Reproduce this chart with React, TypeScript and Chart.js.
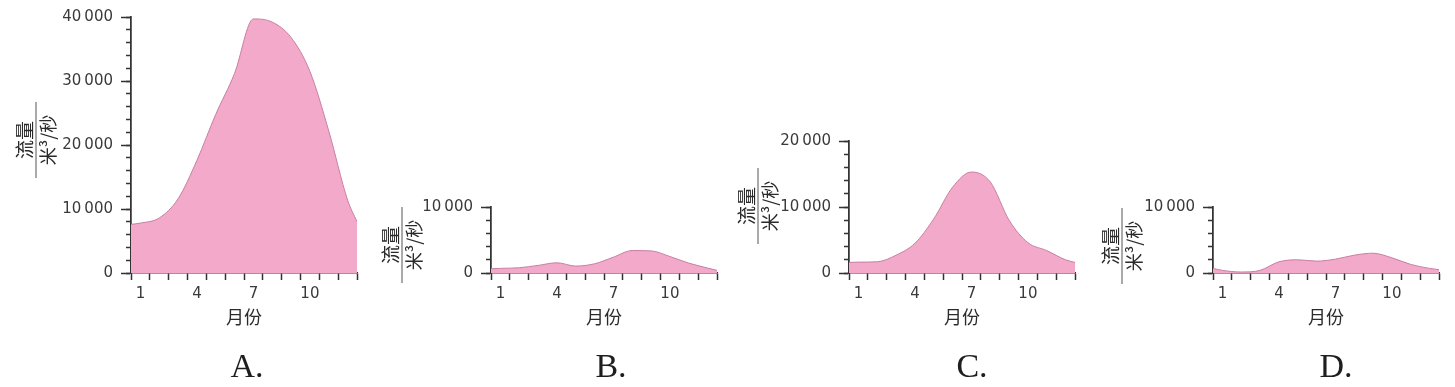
import React, { useEffect, useRef } from "react";
import { Chart, registerables } from "chart.js";

Chart.register(...registerables);

// ---- data ----
const flowX = [0.5, 1, 2, 3, 4, 5, 6, 7, 8, 9, 10, 11, 12, 12.5];
const monthBoundaries = [0.5, 1.5, 2.5, 3.5, 4.5, 5.5, 6.5, 7.5, 8.5, 9.5, 10.5, 11.5, 12.5];
const labeledMonths = [1, 4, 7, 10];

const flowA = [7600, 7800, 8600, 11600, 17600, 24800, 31200, 39700, 39200, 36800, 31500, 22200, 11400, 8000];
const flowB = [650, 700, 800, 1150, 1550, 1050, 1400, 2400, 3400, 3350, 2500, 1500, 750, 400];
const flowC = [1600, 1650, 1700, 2700, 4500, 8200, 13000, 15300, 13800, 8000, 4600, 3400, 2000, 1600];
const flowD = [700, 400, 150, 400, 1700, 2000, 1800, 2100, 2700, 3000, 2300, 1300, 700, 500];

const yMaxes = [40000, 10000, 20000, 10000];
const panelLetters = ["A.", "B.", "C.", "D."];
const yTitleTop = "流量";
const yTitleBottom = "米³/秒";
const xTitle = "月份";

// ---- layout ----
const PAGE_W = 1455;
const PAGE_H = 387;
const AXIS_OFFSET = 131;
const PLOT_W = 227;
const PAD_R = 4;
const Y_W = 75;
const X_H = 56;
const ZERO_Y = 273;

const panels = [
  { values: flowA, yMax: yMaxes[0], letter: panelLetters[0], axisLeft: 131, top: 9, fracX: 36, fracY: 140, letterX: 247, letterY: 377 },
  { values: flowB, yMax: yMaxes[1], letter: panelLetters[1], axisLeft: 491, top: 207, fracX: 402, fracY: 245, letterX: 611, letterY: 377 },
  { values: flowC, yMax: yMaxes[2], letter: panelLetters[2], axisLeft: 849, top: 141, fracX: 758, fracY: 206, letterX: 972, letterY: 377 },
  { values: flowD, yMax: yMaxes[3], letter: panelLetters[3], axisLeft: 1213, top: 207, fracX: 1122, fracY: 246, letterX: 1336, letterY: 377 },
];

const AXIS_COLOR = "#333333";
const TEXT_COLOR = "#3a3a3a";
const FILL = "#F2A9CA";
const EDGE = "#C77FA2";

function fmt(v: number) {
  if (v === 0) return "0";
  const s = String(Math.round(v));
  return s.replace(/\B(?=(\d{3})+(?!\d))/g, "\u2009");
}

const decorPlugin = {
  id: "decor",
  afterDraw(chart: any, _args: any, opts: any) {
    const ctx = chart.ctx as CanvasRenderingContext2D;
    ctx.save();
    ctx.translate(opts.fracX, opts.fracY);
    ctx.rotate(-Math.PI / 2);
    ctx.strokeStyle = "#555";
    ctx.lineWidth = 1;
    ctx.beginPath();
    ctx.moveTo(-38, 0);
    ctx.lineTo(38, 0);
    ctx.stroke();
    ctx.fillStyle = "#2a2a2a";
    ctx.textAlign = "center";
    ctx.textBaseline = "middle";
    ctx.font = '19px "Noto Sans CJK SC"';
    ctx.fillText(yTitleTop, 0, -11);
    ctx.font = '18px "Noto Sans CJK SC"';
    ctx.fillText(yTitleBottom, 0, 12);
    ctx.restore();

    ctx.save();
    ctx.fillStyle = "#1e1e1e";
    ctx.font = '34px "Liberation Serif"';
    ctx.textAlign = "center";
    ctx.textBaseline = "alphabetic";
    ctx.fillText(opts.letter, opts.letterX, opts.letterY);
    ctx.restore();
  },
};

function Panel({ p }: { p: (typeof panels)[number] }) {
  const ref = useRef<HTMLCanvasElement>(null);
  const canvasLeft = p.axisLeft - AXIS_OFFSET;
  const canvasW = AXIS_OFFSET + PLOT_W + PAD_R;

  useEffect(() => {
    if (!ref.current) return;
    const chart = new Chart(ref.current, {
      type: "line",
      data: {
        datasets: [
          {
            data: flowX.map((x, i) => ({ x, y: p.values[i] })),
            fill: "origin",
            backgroundColor: FILL,
            borderColor: EDGE,
            borderWidth: 1,
            pointRadius: 0,
            cubicInterpolationMode: "monotone",
          },
        ],
      },
      options: {
        responsive: false,
        animation: false,
        devicePixelRatio: 1,
        layout: {
          padding: {
            left: AXIS_OFFSET - Y_W,
            right: PAD_R,
            top: p.top,
            bottom: PAGE_H - ZERO_Y - X_H,
          },
        },
        plugins: {
          legend: { display: false },
          tooltip: { enabled: false },
          decor: {
            fracX: p.fracX - canvasLeft,
            fracY: p.fracY,
            letter: p.letter,
            letterX: p.letterX - canvasLeft,
            letterY: p.letterY,
          },
        } as any,
        scales: {
          x: {
            type: "linear",
            min: 0.5,
            max: 12.5,
            afterBuildTicks: (s: any) => {
              s.ticks = [...monthBoundaries, ...labeledMonths]
                .sort((a, b) => a - b)
                .map((v) => ({ value: v }));
            },
            afterFit: (s: any) => {
              s.height = X_H;
            },
            grid: {
              drawOnChartArea: false,
              tickLength: 7,
              tickWidth: 1.5,
              tickColor: (c: any) =>
                c.tick && labeledMonths.includes(c.tick.value) ? "rgba(0,0,0,0)" : AXIS_COLOR,
            },
            border: { display: true, color: AXIS_COLOR, width: 1.5 },
            ticks: {
              autoSkip: false,
              maxRotation: 0,
              padding: 5,
              color: TEXT_COLOR,
              font: { family: "DejaVu Sans", size: 15 },
              callback: (v: any) => (labeledMonths.includes(Number(v)) ? String(v) : ""),
            },
            title: {
              display: true,
              text: xTitle,
              color: "#2a2a2a",
              font: { family: "Noto Sans CJK SC", size: 18 },
              padding: { top: 0, bottom: 1 },
            },
          },
          y: {
            position: "left",
            weight: 1,
            min: 0,
            max: p.yMax,
            afterFit: (s: any) => {
              s.width = Y_W;
            },
            grid: {
              drawOnChartArea: false,
              tickLength: 10,
              tickWidth: 1.5,
              tickColor: AXIS_COLOR,
            },
            border: { display: true, color: AXIS_COLOR, width: 1.5 },
            ticks: {
              stepSize: 10000,
              padding: 8,
              color: TEXT_COLOR,
              font: { family: "DejaVu Sans", size: 15 },
              callback: (v: any) => fmt(Number(v)),
            },
          },
          yMinor: {
            position: "left",
            weight: 0,
            min: 0,
            max: p.yMax,
            afterFit: (s: any) => {
              s.width = 0;
            },
            grid: {
              drawOnChartArea: false,
              tickLength: 5,
              tickWidth: 1.5,
              tickColor: AXIS_COLOR,
            },
            border: { display: true, color: AXIS_COLOR, width: 1.5 },
            ticks: { stepSize: 2000, display: false },
          },
        },
      },
      plugins: [decorPlugin],
    } as any);
    return () => chart.destroy();
  }, []);

  return (
    <canvas
      ref={ref}
      width={canvasW}
      height={PAGE_H}
      style={{ position: "absolute", left: canvasLeft, top: 0, width: canvasW, height: PAGE_H }}
    />
  );
}

export default function App() {
  return (
    <div
      style={{
        position: "absolute",
        left: 0,
        top: 0,
        width: PAGE_W,
        height: PAGE_H,
        background: "#fff",
        overflow: "hidden",
      }}
    >
      {panels.map((p, i) => (
        <Panel key={i} p={p} />
      ))}
    </div>
  );
}
